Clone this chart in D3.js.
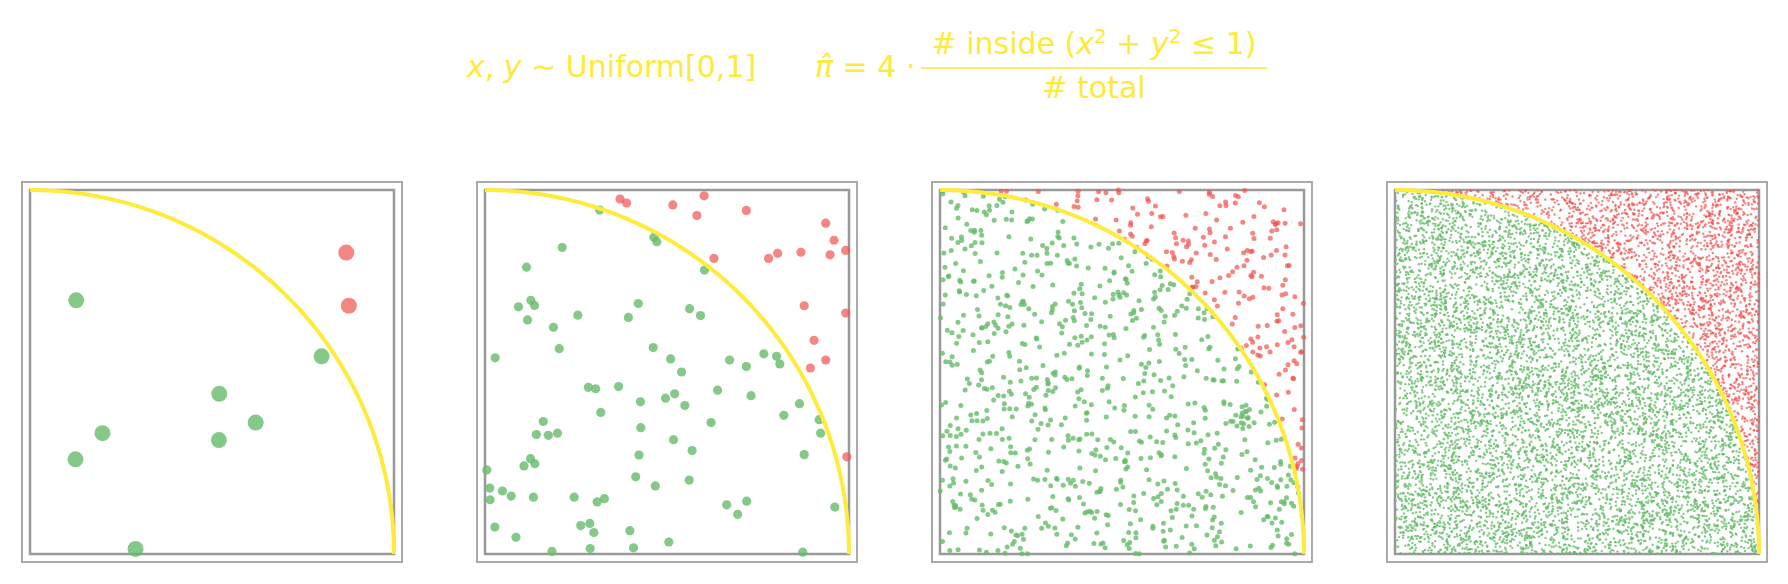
<!DOCTYPE html>
<html><head><meta charset="utf-8">
<script src="https://cdn.jsdelivr.net/npm/d3@7"></script>
<style>body{margin:0;background:#fff}svg{display:block}</style>
</head><body>
<script>
// Panel 1 (n=10) points
const p1x=[.127,.199,.125,.290,.520,.519,.620,.801,.869,.876];
const p1y=[.697,.332,.260,.014,.440,.313,.361,.543,.828,.682];
// Panel 2 (n=100) points
const p2x=[.371,.389,.516,.602,.582,.718,.936,.959,.948,.991,.868,.804,.779,.629,.877,.991,.904,.936,.894,.994,
.315,.212,.464,.472,.114,.603,.126,.136,.092,.117,.255,.188,.421,.394,.562,.592,.204,.028,.462,.510,.540,.672,.718,.766,.801,.810,
.284,.304,.367,.427,.496,.521,.549,.639,.731,.864,.821,.918,.922,.318,.160,.141,.174,.199,.428,.518,.621,.569,.423,.877,.125,.107,.137,
.005,.414,.468,.561,.013,.014,.048,.072,.133,.245,.308,.328,.664,.719,.694,.961,.027,.085,.263,.288,.299,.398,.505,.184,.289,.408,.873];
const p2y=[.975,.964,.959,.984,.930,.944,.909,.862,.822,.834,.829,.826,.812,.812,.682,.662,.587,.533,.511,.267,
.945,.842,.870,.858,.788,.780,.697,.683,.679,.643,.656,.623,.688,.650,.674,.655,.564,.539,.567,.536,.500,.533,.515,.550,.543,.522,
.458,.454,.460,.418,.428,.440,.408,.450,.435,.413,.381,.369,.332,.389,.364,.328,.326,.332,.347,.314,.361,.284,.272,.273,.262,.242,.248,
.231,.212,.187,.203,.181,.149,.173,.159,.156,.156,.143,.152,.135,.145,.109,.129,.074,.046,.078,.084,.059,.064,.033,.007,.015,.017,.005];
// Panels 3 and 4: Monte Carlo samples (seeded uniform draws, as in the source chart)
const sampleSizes=[1000,10000];
const seeds=[7,42];
const dotRadius=[8,4.6,2.5,1.2];
const titleColor="#fdea3a";

function lcg(seed){let s=seed>>>0;return()=>{s=(Math.imul(s,1664525)+1013904223)>>>0;return s/4294967296;};}
function sample(n,seed){const r=lcg(seed);const xs=[],ys=[];for(let i=0;i<n;i++){xs.push(r());ys.push(r());}return [xs,ys];}
const panels=[[p1x,p1y],[p2x,p2y],sample(sampleSizes[0],seeds[0]),sample(sampleSizes[1],seeds[1])];

const W=1788,H=584;
const svg=d3.select("body").append("svg").attr("width",W).attr("height",H);

panels.forEach(([xs,ys],i)=>{
  const left=22+i*455, top=182, size=380;
  const x=d3.scaleLinear().domain([-0.022,1.022]).range([left,left+size]);
  const y=d3.scaleLinear().domain([-0.022,1.022]).range([top+size,top]);
  const g=svg.append("g");
  g.append("rect").attr("x",left).attr("y",top).attr("width",size).attr("height",size)
    .attr("fill","none").attr("stroke","#aaa").attr("stroke-width",2);
  g.append("rect").attr("x",x(0)).attr("y",y(1)).attr("width",x(1)-x(0)).attr("height",y(0)-y(1))
    .attr("fill","none").attr("stroke","#999").attr("stroke-width",2.5);
  const pts=xs.map((v,k)=>[v,ys[k]]);
  g.append("g").selectAll("circle").data(pts).join("circle")
    .attr("cx",d=>x(d[0])).attr("cy",d=>y(d[1])).attr("r",dotRadius[i])
    .attr("fill",d=>d[0]*d[0]+d[1]*d[1]<=1?"#66bb6a":"#ef5350")
    .attr("fill-opacity",d=>d[0]*d[0]+d[1]*d[1]<=1?0.8:0.7);
  const arc=d3.range(0,91).map(a=>[Math.cos(a*Math.PI/180),Math.sin(a*Math.PI/180)]);
  g.append("path").datum(arc).attr("d",d3.line().x(d=>x(d[0])).y(d=>y(d[1])))
    .attr("fill","none").attr("stroke","#ffeb3b").attr("stroke-width",4);
});

// title
const t=svg.append("g").attr("fill",titleColor).style("font-family","'DejaVu Sans',sans-serif").style("font-size","30px");
const left=t.append("text").attr("x",467).attr("y",77);
left.append("tspan").text("x").style("font-style","italic");
left.append("tspan").text(", ");
left.append("tspan").text("y").style("font-style","italic");
left.append("tspan").text(" ~ Uniform[0,1]");
const pi=t.append("text").attr("x",815).attr("y",77);
pi.append("tspan").text("π̂").style("font-style","italic");
pi.append("tspan").text(" = 4 ·");
const num=t.append("text").attr("x",1094).attr("y",54).attr("text-anchor","middle");
num.append("tspan").text("# inside (");
num.append("tspan").text("x").style("font-style","italic");
num.append("tspan").text("2").attr("dy",-11).style("font-size","20px");
num.append("tspan").text(" + ").attr("dy",11);
num.append("tspan").text("y").style("font-style","italic");
num.append("tspan").text("2").attr("dy",-11).style("font-size","20px");
num.append("tspan").text(" ≤ 1)").attr("dy",11);
t.append("line").attr("x1",921).attr("x2",1267).attr("y1",68).attr("y2",68).attr("stroke",titleColor).attr("stroke-width",1.5);
t.append("text").attr("x",1094).attr("y",98).attr("text-anchor","middle").text("# total");
</script>
</body></html>
